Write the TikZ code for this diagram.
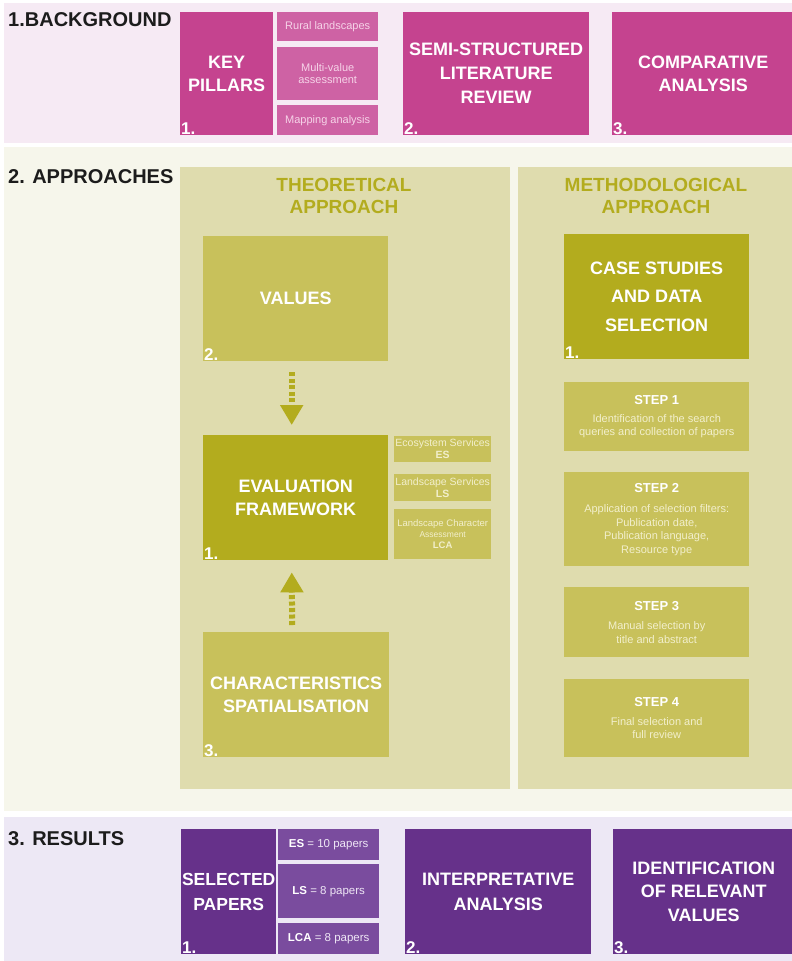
\documentclass[tikz,border=0pt]{standalone}
\usepackage{fontspec}
\setmainfont{Liberation Sans}
\usetikzlibrary{calc,arrows.meta}

\definecolor{Ink}{HTML}{1C1C1C}
\definecolor{PinkBand}{HTML}{F6EAF4}
\definecolor{PinkMain}{HTML}{C5438F}
\definecolor{PinkSub}{HTML}{CE62A4}
\definecolor{PinkText}{HTML}{F6D3E8}
\definecolor{CreamBand}{HTML}{F6F6EB}
\definecolor{KhakiPanel}{HTML}{DFDCAE}
\definecolor{OliveMid}{HTML}{C8C15B}
\definecolor{OliveDeep}{HTML}{B3AC1E}
\definecolor{OliveText}{HTML}{F2EFCC}
\definecolor{LilacBand}{HTML}{EDE8F5}
\definecolor{PurpleMain}{HTML}{66318A}
\definecolor{PurpleSub}{HTML}{7A4C9E}
\definecolor{PurpleText}{HTML}{EEE6F5}

\tikzset{
  box/.style={anchor=north west, inner sep=0pt, align=center},
  wh/.style 2 args={minimum width=#1pt, minimum height=#2pt},
  bigtext/.style={box, text=white, font=\bfseries\fontsize{18}{23.5}\selectfont},
  smalltext/.style={box, font=\fontsize{11}{12.5}\selectfont},
  pillar/.style={bigtext, fill=PinkMain},
  pillarsub/.style={smalltext, fill=PinkSub, text=PinkText},
  theory/.style={bigtext, fill=OliveMid},
  core/.style={bigtext, fill=OliveDeep},
  theorysub/.style={smalltext, fill=OliveMid, text=OliveText, font=\fontsize{10.5}{12}\selectfont},
  stepbox/.style={smalltext, fill=OliveMid, text=OliveText, font=\fontsize{11}{13.5}\selectfont},
  result/.style={bigtext, fill=PurpleMain},
  resultsub/.style={smalltext, fill=PurpleSub, text=PurpleText, font=\fontsize{11.5}{13}\selectfont},
  num/.style={anchor=base west, inner sep=0pt, xshift=1pt, yshift=0.5pt, text=white,
    font=\bfseries\fontsize{17}{17}\selectfont},
  section/.style={anchor=base west, inner sep=0pt, text=Ink, font=\bfseries\fontsize{20}{20}\selectfont},
  heading/.style={inner sep=0pt, align=center, text=OliveDeep, font=\bfseries\fontsize{19}{21.5}\selectfont},
  flow/.style={draw=OliveDeep, line width=6pt, dash pattern=on 4pt off 2.5pt,
    -{Triangle[width=22pt,length=20pt]}}
}
\newcommand{\steptitle}[1]{\textcolor{white}{\bfseries\fontsize{13}{16}\selectfont #1}}

\begin{document}
\begin{tikzpicture}[x=1pt, y=-1pt]
  \useasboundingbox (0,0) rectangle (792,961);

  % the three bands
  \fill[PinkBand] (4,3) rectangle (792,143);
  \fill[CreamBand] (4,147) rectangle (792,811);
  \fill[LilacBand] (4,817) rectangle (792,961);

  % 1. background
  \node[section] (secA) at (8,26) {1.BACKGROUND};
  \node[pillar, wh={93}{123}] (kp) at (180,12) {KEY\\PILLARS};
  \node[pillarsub, wh={101}{29}] (rural) at (277,12) {Rural landscapes};
  \node[pillarsub, wh={101}{53}] (multi) at (277,47) {Multi-value\\assessment};
  \node[pillarsub, wh={101}{30}] (mapping) at (277,105) {Mapping analysis};
  \node[pillar, wh={186}{123}, font=\bfseries\fontsize{18}{24}\selectfont] (semi) at (403,12) {SEMI-STRUCTURED\\LITERATURE\\REVIEW};
  \node[pillar, wh={182}{123}] (comp) at (612,12) {COMPARATIVE\\ANALYSIS};
  \node[num] at (kp.south west) {1.};
  \node[num] at (semi.south west) {2.};
  \node[num] at (comp.south west) {3.};

  % 2. approaches
  \node[section] (secB) at (8,183) {2. APPROACHES};
  \fill[KhakiPanel] (180,167) rectangle (510,789);
  \fill[KhakiPanel] (518,167) rectangle (795,789);
  \node[heading] (theo) at (344,196) {THEORETICAL\\APPROACH};
  \node[heading] (meth) at (656,196) {METHODOLOGICAL\\APPROACH};

  \node[theory, wh={185}{125}] (val) at (203,236) {VALUES};
  \node[core, wh={185}{125}] (ev) at (203,435) {EVALUATION\\FRAMEWORK};
  \node[theory, wh={186}{125}] (chr) at (203,632) {CHARACTERISTICS\\SPATIALISATION};
  \node[num] at (val.south west) {2.};
  \node[num] at (ev.south west) {1.};
  \node[num] at (chr.south west) {3.};
  \node[theorysub, wh={97}{26}] (es) at (394,436) {Ecosystem Services\\\textbf{ES}};
  \node[theorysub, wh={97}{27}] (ls) at (394,474) {Landscape Services\\\textbf{LS}};
  \node[theorysub, wh={97}{50}, font=\fontsize{9.5}{11}\selectfont] (lca) at (394,509)
    {Landscape Character\\{\fontsize{8.5}{11}\selectfont Assessment}\\\textbf{LCA}};

  \draw[flow, shorten <=11pt, shorten >=10pt] ($(val.south)+(-4,0)$) -- ($(ev.north)+(-4,0)$);
  \draw[flow, shorten <=7pt, shorten >=12pt] ($(chr.north)+(-4,0)$) -- ($(ev.south)+(-4,0)$);

  \node[core, wh={185}{125}, font=\bfseries\fontsize{18}{28.5}\selectfont] (case) at (564,234)
    {CASE STUDIES\\AND DATA\\SELECTION};
  \node[num] at (case.south west) {1.};
  \node[stepbox, wh={185}{69}] (s1) at (564,382)
    {\steptitle{STEP 1}\\[4pt]
     Identification of the search\\queries and collection of papers};
  \node[stepbox, wh={185}{94}] (s2) at (564,472)
    {\steptitle{STEP 2}\\[7pt]
     Application of selection filters:\\Publication date,\\Publication language,\\Resource type};
  \node[stepbox, wh={185}{70}] (s3) at (564,587)
    {\steptitle{STEP 3}\\[6pt]
     Manual selection by\\title and abstract};
  \node[stepbox, wh={185}{78}] (s4) at (564,679)
    {\steptitle{STEP 4}\\[5pt]
     Final selection and\\full review};

  % 3. results
  \node[section] (secC) at (8,845) {3. RESULTS};
  \node[result, wh={95}{125}, font=\bfseries\fontsize{17.5}{25}\selectfont] (sel) at (181,829) {SELECTED\\PAPERS};
  \node[resultsub, wh={101}{31}] (nes) at (278,829) {\textbf{\color{white}ES} = 10 papers};
  \node[resultsub, wh={101}{54}] (nls) at (278,864) {\textbf{\color{white}LS} = 8 papers};
  \node[resultsub, wh={101}{31}] (nlca) at (278,923) {\textbf{\color{white}LCA} = 8 papers};
  \node[result, wh={186}{125}, font=\bfseries\fontsize{18}{25}\selectfont] (interp) at (405,829) {INTERPRETATIVE\\ANALYSIS};
  \node[result, wh={181}{125}] (ident) at (613,829) {IDENTIFICATION\\OF RELEVANT\\VALUES};
  \node[num] at (sel.south west) {1.};
  \node[num] at (interp.south west) {2.};
  \node[num] at (ident.south west) {3.};
\end{tikzpicture}
\end{document}
